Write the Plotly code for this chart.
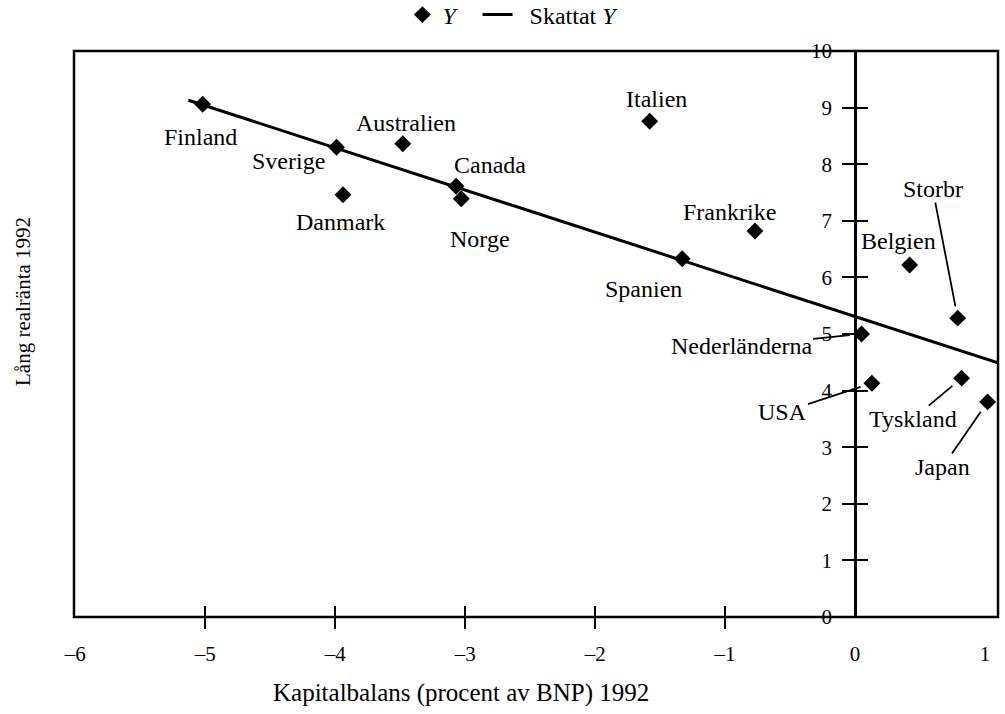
import plotly.graph_objects as go

# ---- data ----
countries = ["Finland", "Sverige", "Australien", "Danmark", "Canada", "Norge",
             "Italien", "Frankrike", "Spanien", "Belgien", "Storbr",
             "Nederländerna", "USA", "Tyskland", "Japan"]
cap_balance = [-5.02, -3.99, -3.48, -3.94, -3.07, -3.03,
               -1.58, -0.77, -1.33, 0.42, 0.79,
               0.05, 0.13, 0.82, 1.02]
real_rate = [9.06, 8.30, 8.36, 7.46, 7.61, 7.39,
             8.76, 6.82, 6.33, 6.22, 5.28,
             5.00, 4.13, 4.22, 3.80]
fit_x = [-5.13, 1.10]
fit_y = [9.13, 4.49]

x_tickvals = [-6, -5, -4, -3, -2, -1, 0, 1]
x_ticktext = ["\u20136", "\u20135", "\u20134", "\u20133", "\u20132", "\u20131", "0", "1"]
x_minor_ticks = [-5, -4, -3, -2, -1]
y_tickvals = [0, 1, 2, 3, 4, 5, 6, 7, 8, 9, 10]

# ---- layout / style settings ----
XR = [-6.01, 1.10]
YR = [0, 10]
FONT = "Liberation Serif"
LABEL_SIZE = 24
# label offsets in pixels (dx right, dy down) for plain labels
plain_offsets = {
    "Finland": (-2, 33), "Sverige": (-48, 14), "Australien": (3, -21),
    "Danmark": (-3, 27), "Canada": (34, -21), "Norge": (19, 40),
    "Italien": (7, -22), "Frankrike": (-25, -19), "Spanien": (-39, 30),
    "Belgien": (-11, -24),
}
# leader-line labels: (ax, ay) pixel offsets of text from point
arrow_offsets = {
    "Storbr": (-25, -129), "Nederländerna": (-120, 12), "USA": (-89, 29),
    "Tyskland": (-49, 41), "Japan": (-45, 65),
}

fig = go.Figure()
fig.add_trace(go.Scatter(
    x=cap_balance, y=real_rate, mode="markers", name="<i>Y</i>\u2002\u2009",
    marker=dict(symbol="diamond", size=13, color="black"),
    hoverinfo="skip"))
fig.add_trace(go.Scatter(
    x=fit_x, y=fit_y, mode="lines", name="\u2002Skattat <i>Y</i>",
    line=dict(color="black", width=3), hoverinfo="skip"))
# invisible helpers so overlay axes are drawn
for xa, ya in [("x2", "y"), ("x3", "y"), ("x", "y2")]:
    fig.add_trace(go.Scatter(x=[None], y=[None], xaxis=xa, yaxis=ya,
                             showlegend=False, hoverinfo="skip"))

ypos = (0 - XR[0]) / (XR[1] - XR[0])

annotations = []
for c, xv, yv in zip(countries, cap_balance, real_rate):
    if c in plain_offsets:
        dx, dy = plain_offsets[c]
        annotations.append(dict(x=xv, y=yv, xref="x", yref="y", text=c,
                                showarrow=False, xshift=dx, yshift=-dy,
                                font=dict(family=FONT, size=LABEL_SIZE, color="black")))
    else:
        ax, ay = arrow_offsets[c]
        annotations.append(dict(x=xv, y=yv, xref="x", yref="y", text=c,
                                showarrow=True, ax=ax, ay=ay, arrowhead=0,
                                arrowwidth=1.8, arrowcolor="black", standoff=12,
                                borderpad=0,
                                font=dict(family=FONT, size=LABEL_SIZE, color="black")))

annotations.append(dict(text="Kapitalbalans (procent av BNP) 1992",
                        x=0.419, y=-0.134, xref="paper", yref="paper",
                        showarrow=False, xanchor="center", yanchor="middle",
                        font=dict(family=FONT, size=25, color="black")))
annotations.append(dict(text="Lång realränta 1992", textangle=-90,
                        x=-0.056, y=0.557, xref="paper", yref="paper",
                        showarrow=False, xanchor="center", yanchor="middle",
                        font=dict(family=FONT, size=21, color="black")))

fig.update_layout(
    width=1005, height=714,
    margin=dict(l=74, r=7, t=51, b=97, autoexpand=False),
    paper_bgcolor="white", plot_bgcolor="white",
    font=dict(family=FONT, size=21, color="black"),
    showlegend=True,
    legend=dict(orientation="h", x=0.475, y=1.0636, xanchor="center",
                yanchor="middle", font=dict(family=FONT, size=24),
                bgcolor="rgba(0,0,0,0)", itemwidth=30),
    xaxis=dict(range=XR, tickvals=x_tickvals, ticktext=x_ticktext,
               ticks="", showgrid=False, zeroline=False, showline=False,
               ticklabelstandoff=22, tickfont=dict(family=FONT, size=21)),
    xaxis2=dict(range=XR, overlaying="x", anchor="y", tickvals=x_minor_ticks,
                ticks="outside", ticklen=11, tickwidth=2, tickcolor="black",
                showticklabels=False, showgrid=False, zeroline=False,
                showline=False),
    xaxis3=dict(range=XR, overlaying="x", anchor="y", tickvals=x_minor_ticks,
                ticks="inside", ticklen=11, tickwidth=2, tickcolor="black",
                showticklabels=False, showgrid=False, zeroline=False,
                showline=False),
    yaxis=dict(range=YR, tickvals=y_tickvals, anchor="free", position=ypos,
               ticks="outside", ticklen=12, tickwidth=2, tickcolor="black",
               showline=True, linewidth=2.5, linecolor="black",
               showgrid=False, zeroline=False, ticklabelstandoff=6,
               tickfont=dict(family=FONT, size=21)),
    yaxis2=dict(range=YR, tickvals=y_tickvals, overlaying="y", anchor="free",
                position=ypos, ticks="inside", ticklen=12, tickwidth=2,
                tickcolor="black", showticklabels=False, showgrid=False,
                zeroline=False, showline=False),
    shapes=[dict(type="rect", xref="paper", yref="paper", x0=0, x1=1,
                 y0=0, y1=1, line=dict(color="black", width=2.5))],
    annotations=annotations,
)

fig.write_html("out.html", config={"displayModeBar": False},
               post_script="document.body.style.margin='0';")
